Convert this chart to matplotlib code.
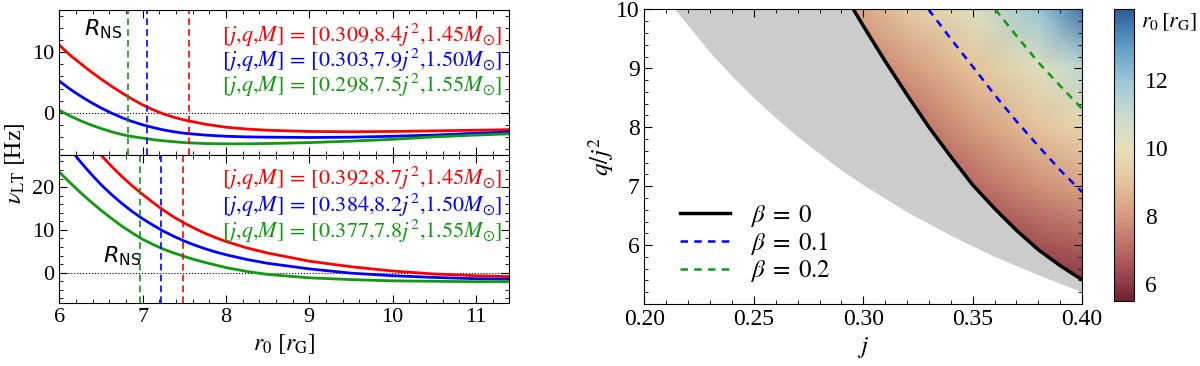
import matplotlib
matplotlib.use("Agg")
import matplotlib.pyplot as plt
import numpy as np
from matplotlib.ticker import MultipleLocator, FixedLocator
from matplotlib.colors import LinearSegmentedColormap
from matplotlib.patches import Polygon

plt.rcParams["font.family"] = ["Liberation Serif", "DejaVu Serif"]
plt.rcParams["mathtext.fontset"] = "stix"

RED, BLUE, GREEN = "#ff0000", "#0000ff", "#109a10"

# ---- left panels: frame-dragging frequency vs r0 ----
r_top = [6, 6.125, 6.25, 6.375, 6.5, 6.625, 6.75, 6.875, 7, 7.125, 7.25, 7.375, 7.5,
         7.75, 8, 8.25, 8.5, 9, 9.5, 10, 10.5, 11, 11.4]
nu_top_red = [11.2, 9.6, 8.2, 6.85, 5.6, 4.4, 3.3, 2.25, 1.3, 0.5, -0.2, -0.75, -1.2,
              -1.9, -2.4, -2.7, -2.9, -3.1, -3.15, -3.1, -3.0, -2.9, -2.8]
nu_top_blue = [5.25, 3.95, 2.8, 1.75, 0.8, -0.05, -0.8, -1.45, -2.0, -2.45, -2.85, -3.15, -3.4,
               -3.7, -3.9, -4.0, -4.05, -4.1, -4.05, -3.9, -3.7, -3.4, -3.2]
nu_top_green = [0.4, -0.5, -1.3, -2.0, -2.6, -3.15, -3.6, -3.95, -4.2, -4.45, -4.65, -4.8, -4.95,
                -5.1, -5.15, -5.15, -5.1, -4.95, -4.7, -4.4, -4.0, -3.7, -3.5]
rns_top = [6.82, 7.05, 7.56]  # green, blue, red

r_bot = [6, 6.125, 6.25, 6.375, 6.5, 6.625, 6.75, 6.875, 7, 7.125, 7.25, 7.375, 7.5,
         7.625, 7.75, 7.875, 8, 8.25, 8.5, 9, 9.5, 10, 10.5, 11, 11.4]
nu_bot_red = [40.0, 36.6, 33.5, 30.4, 27.5, 24.9, 22.5, 20.3, 18.3, 16.4, 14.6, 13.0, 11.6,
              10.35, 9.2, 8.2, 7.3, 5.8, 4.6, 2.7, 1.4, 0.4, -0.3, -0.7, -0.9]
nu_bot_blue = [32.5, 29.1, 26.0, 23.2, 20.6, 18.3, 16.2, 14.3, 12.6, 11.1, 9.7, 8.5, 7.4,
               6.45, 5.6, 4.85, 4.2, 3.1, 2.2, 0.9, -0.1, -0.7, -1.1, -1.4, -1.5]
nu_bot_green = [23.5, 21.1, 18.8, 16.65, 14.6, 12.7, 10.9, 9.3, 7.8, 6.6, 5.5, 4.6, 3.8,
                3.05, 2.4, 1.8, 1.2, 0.3, -0.4, -1.2, -1.6, -1.9, -2.0, -2.1, -2.1]
rns_bot = [6.97, 7.22, 7.48]

labels_top = [r"$[j{,}q{,}M]\,=\,[0.309{,}8.4j^2{,}1.45M_{\odot}]$",
              r"$[j{,}q{,}M]\,=\,[0.303{,}7.9j^2{,}1.50M_{\odot}]$",
              r"$[j{,}q{,}M]\,=\,[0.298{,}7.5j^2{,}1.55M_{\odot}]$"]
labels_bot = [r"$[j{,}q{,}M]\,=\,[0.392{,}8.7j^2{,}1.45M_{\odot}]$",
              r"$[j{,}q{,}M]\,=\,[0.384{,}8.2j^2{,}1.50M_{\odot}]$",
              r"$[j{,}q{,}M]\,=\,[0.377{,}7.8j^2{,}1.55M_{\odot}]$"]

# ---- right panel: (j, q/j^2) plane ----
gray_j = [0.214, 0.23, 0.24, 0.25, 0.26, 0.27, 0.28, 0.29, 0.30, 0.32, 0.34, 0.36, 0.38, 0.40]
gray_q = [10.0, 9.27, 8.87, 8.50, 8.16, 7.84, 7.55, 7.27, 7.02, 6.56, 6.16, 5.80, 5.49, 5.2]
b0_j = [0.2955, 0.30, 0.31, 0.32, 0.33, 0.34, 0.35, 0.36, 0.37, 0.38, 0.39, 0.40]
b0_q = [10.0, 9.72, 9.12, 8.55, 8.0, 7.5, 7.02, 6.62, 6.25, 5.92, 5.65, 5.41]
b1_j = [0.3298, 0.34, 0.35, 0.36, 0.37, 0.38, 0.39, 0.40]
b1_q = [10.0, 9.5, 9.03, 8.55, 8.1, 7.68, 7.27, 6.9]
b2_j = [0.3603, 0.37, 0.38, 0.39, 0.40]
b2_q = [10.0, 9.55, 9.1, 8.7, 8.31]

grid_j = [0.29, 0.32, 0.35, 0.38, 0.40]
grid_q = [5, 6, 7, 8, 9, 10]
r0_grid = [
    [4.5, 5.0, 5.3, 5.5, 5.6],
    [5.0, 5.5, 6.0, 6.5, 6.8],
    [5.5, 6.2, 7.0, 7.8, 8.2],
    [6.0, 7.0, 8.0, 9.0, 9.6],
    [7.0, 8.0, 9.0, 10.3, 11.2],
    [8.0, 9.2, 10.3, 12.0, 13.6],
]

cmap = LinearSegmentedColormap.from_list("r0map", [
    (0.00, "#6e2030"), (0.06, "#8e3a48"), (0.17, "#b86862"), (0.29, "#d49a7c"),
    (0.41, "#e6c49a"), (0.52, "#e8e0b8"), (0.64, "#c8dcd0"), (0.75, "#9cc8d8"),
    (0.87, "#5f9ec8"), (1.00, "#2b5c9a")])

fig = plt.figure(figsize=(12, 3.66), dpi=100)

ax1 = fig.add_axes([0.0494, 0.5765, 0.375, 0.396])
ax2 = fig.add_axes([0.0494, 0.173, 0.375, 0.4035])

for ax, rr, curves, rns, labs, ys in [
        (ax1, r_top, [nu_top_red, nu_top_blue, nu_top_green], rns_top, labels_top,
         [0.828, 0.655, 0.483]),
        (ax2, r_bot, [nu_bot_red, nu_bot_blue, nu_bot_green], rns_bot, labels_bot,
         [0.842, 0.661, 0.48])]:
    ax.axhline(0, color="k", lw=0.8, ls=":")
    for c, col in zip(curves, [RED, BLUE, GREEN]):
        ax.plot(rr, c, color=col, lw=2)
    for xv, col in zip(rns, [GREEN, BLUE, RED]):
        ax.axvline(xv, color=col, lw=1.2, ls=(0, (4, 2.5)))
    for t, col, yy in zip(labs, [RED, BLUE, GREEN], ys):
        ax.text(0.985, yy, t, transform=ax.transAxes, color=col,
                fontsize=16, ha="right", va="center")
    ax.set_xlim(6, 11.4)
    ax.xaxis.set_major_locator(MultipleLocator(1))
    ax.xaxis.set_minor_locator(MultipleLocator(0.2))
    ax.yaxis.set_major_locator(MultipleLocator(10))
    ax.yaxis.set_minor_locator(MultipleLocator(2))
    ax.tick_params(which="both", direction="in", top=True, right=True, labelsize=16)
    ax.tick_params(which="major", length=6)
    ax.tick_params(which="minor", length=3)

ax1.set_ylim(-7, 17)
ax2.set_ylim(-7, 27.5)
ax1.tick_params(labelbottom=False)
ax1.text(6.3, 13.8, r"$R_{\mathrm{NS}}$", fontsize=16, math_fontfamily="dejavusans",
         ha="left", va="center")
ax2.text(6.52, 3.8, r"$R_{\mathrm{NS}}$", fontsize=16, math_fontfamily="dejavusans",
         ha="left", va="center")
ax2.set_xlabel(r"$r_0\ [r_{\rm G}]$", fontsize=17, labelpad=4)
fig.text(0.013, 0.555, r"$\nu_{\rm LT}\ [{\rm Hz}]$", fontsize=17, rotation=90,
         ha="center", va="center")

# right panel
ax3 = fig.add_axes([0.537, 0.1694, 0.3648, 0.805])
ax3.fill(gray_j + b0_j[::-1], gray_q + b0_q[::-1], color="#cccccc", lw=0)
J, Q = np.meshgrid(grid_j, grid_q)
mesh = ax3.pcolormesh(J, Q, np.array(r0_grid), shading="gouraud", cmap=cmap,
                      vmin=5.5, vmax=14.1)
clip = Polygon(list(zip(b0_j, b0_q)) + [(0.40, 10.0)], closed=True,
               transform=ax3.transData, facecolor="none", edgecolor="none")
ax3.add_patch(clip)
mesh.set_clip_path(clip)
ax3.plot(b0_j, b0_q, color="k", lw=2.5, label=r"$\beta\;=\;0$")
ax3.plot(b1_j, b1_q, color=BLUE, lw=1.8, ls=(0, (3, 2.5)), label=r"$\beta\;=\;0.1$")
ax3.plot(b2_j, b2_q, color=GREEN, lw=1.8, ls=(0, (3, 2.5)), label=r"$\beta\;=\;0.2$")
ax3.set_xlim(0.20, 0.40)
ax3.set_ylim(5, 10)
ax3.xaxis.set_major_locator(FixedLocator([0.20, 0.25, 0.30, 0.35, 0.40]))
ax3.xaxis.set_minor_locator(MultipleLocator(0.01))
ax3.yaxis.set_major_locator(FixedLocator([6, 7, 8, 9, 10]))
ax3.yaxis.set_minor_locator(MultipleLocator(0.2))
ax3.set_xticklabels(["0.20", "0.25", "0.30", "0.35", "0.40"])
ax3.tick_params(which="both", direction="in", top=True, right=True, labelsize=17)
ax3.tick_params(which="major", length=6)
ax3.tick_params(which="minor", length=3)
ax3.set_xlabel(r"$j$", fontsize=18, labelpad=4)
ax3.set_ylabel(r"$q/j^2$", fontsize=18, labelpad=0)
ax3.legend(loc="lower left", bbox_to_anchor=(0.03, -0.01), frameon=False, fontsize=18,
           handlelength=2.0, handletextpad=0.8, labelspacing=0.05)

cax = fig.add_axes([0.928, 0.1776, 0.0167, 0.798])
cb = fig.colorbar(mesh, cax=cax)
cb.set_ticks([6, 8, 10, 12])
cax.tick_params(length=0, labelsize=17, pad=8)
fig.text(0.951, 0.94, r"$r_0\,[r_{\rm G}]$", fontsize=16, ha="left", va="center")

fig.savefig("out.png", dpi=100)
